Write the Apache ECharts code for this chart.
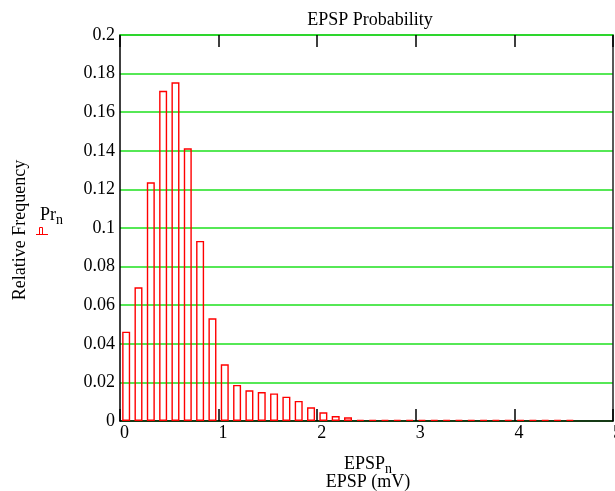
<!DOCTYPE html>
<html>
<head>
<meta charset="utf-8">
<script src="https://cdn.jsdelivr.net/npm/echarts@6/dist/echarts.min.js"></script>
<style>
html,body{margin:0;padding:0;background:#fff;}
#c{width:615px;height:491px;}
</style>
</head>
<body>
<div id="c"></div>
<script>
var binCenters = [0.0625,0.1875,0.3125,0.4375,0.5625,0.6875,0.8125,0.9375,1.0625,1.1875,1.3125,1.4375,1.5625,1.6875,1.8125,1.9375,2.0625,2.1875,2.3125,2.4375,2.5625,2.6875,2.8125,2.9375,3.0625,3.1875,3.3125,3.4375,3.5625,3.6875,3.8125,3.9375,4.0625,4.1875,4.3125,4.4375,4.5625];
var prValues = [0.0463,0.0693,0.1237,0.1711,0.1755,0.1413,0.0933,0.0532,0.0294,0.0187,0.0159,0.0150,0.0143,0.0126,0.0104,0.0071,0.0045,0.0026,0.0019,0.0006,0.0006,0.0006,0.0006,0.0006,0.0006,0.0006,0.0006,0.0006,0.0006,0.0006,0.0006,0.0006,0.0006,0.0006,0.0006,0.0006,0.0006];
var xTicks = [0,1,2,3,4,5];
var yTicks = [0,0.02,0.04,0.06,0.08,0.1,0.12,0.14,0.16,0.18,0.2];

var font = '"Liberation Serif", "DejaVu Serif", serif';
var chart = echarts.init(document.getElementById('c'));
var data = binCenters.map(function(x,i){return [x, prValues[i]];});
chart.setOption({
  animation:false,
  backgroundColor:'#fff',
  grid:{left:120,right:2,top:35,bottom:70,outerBoundsMode:'none',containLabel:false},
  xAxis:[{
    type:'value',position:'bottom',min:xTicks[0],max:xTicks[xTicks.length-1],interval:1,
    axisLine:{show:true,onZero:false,lineStyle:{color:'#000',width:1.5}},
    axisTick:{show:true,inside:true,length:12,lineStyle:{color:'#000',width:1.5}},
    axisLabel:{show:true,align:'left',margin:3,fontFamily:font,fontSize:18,color:'#000'},
    splitLine:{show:false}
  },{
    type:'value',position:'top',min:xTicks[0],max:xTicks[xTicks.length-1],interval:1,
    axisLine:{show:true,onZero:false,lineStyle:{color:'#22d022',width:1.6}},
    axisTick:{show:true,inside:true,length:12,lineStyle:{color:'#000',width:1.5}},
    axisLabel:{show:false},splitLine:{show:false}
  }],
  yAxis:[{
    type:'value',position:'left',min:yTicks[0],max:yTicks[yTicks.length-1],interval:0.02,
    axisLine:{show:true,onZero:false,lineStyle:{color:'#000',width:1.5}},
    axisTick:{show:false},
    axisLabel:{margin:5,fontFamily:font,fontSize:18,color:'#000',
      formatter:function(v){return String(Math.round(v*100)/100);}},
    splitLine:{show:true,lineStyle:{color:'#1ee01e',width:1.5}}
  },{
    type:'value',position:'right',min:yTicks[0],max:yTicks[yTicks.length-1],interval:0.02,
    axisLine:{show:true,onZero:false,lineStyle:{color:'#222',width:1.5}},
    axisTick:{show:false},axisLabel:{show:false},splitLine:{show:false}
  }],
  series:[{
    type:'bar',xAxisIndex:0,yAxisIndex:0,data:data,barWidth:8,
    itemStyle:{color:'rgba(255,255,255,0)',borderColor:'#ff0000',borderWidth:1.4},
    z:5
  }],
  graphic:[
    {type:'text',x:370,y:11,style:{text:'EPSP Probability',font:'18px '+font,fill:'#000',textAlign:'center'}},
    {type:'text',x:20,y:230,rotation:Math.PI/2,style:{text:'Relative Frequency',font:'18px '+font,fill:'#000',textAlign:'center',textVerticalAlign:'middle'}},
    {type:'text',x:40,y:204,style:{rich:{a:{fontFamily:font,fontSize:18,fill:'#000'},s:{fontFamily:font,fontSize:14,fill:'#000',padding:[9,0,0,0]}},text:'{a|Pr}{s|n}'}},
    {type:'polyline',shape:{points:[[36,234.5],[48,234.5]]},style:{stroke:'#ff0000',lineWidth:1}},
    {type:'polyline',shape:{points:[[39.5,234.5],[39.5,227.5],[42.5,227.5],[42.5,234.5]]},style:{stroke:'#ff0000',lineWidth:1,fill:null}},
    {type:'text',x:368,y:453,style:{rich:{a:{fontFamily:font,fontSize:18,fill:'#000'},s:{fontFamily:font,fontSize:14,fill:'#000',padding:[9,0,0,0]}},text:'{a|EPSP}{s|n}',textAlign:'center'}},
    {type:'text',x:368,y:473,style:{text:'EPSP (mV)',font:'18px '+font,fill:'#000',textAlign:'center'}}
  ]
});
</script>
</body>
</html>
